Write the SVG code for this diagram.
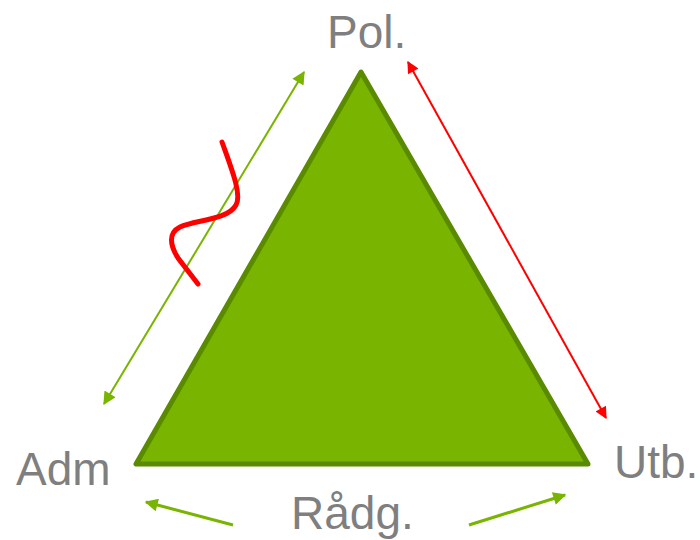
<svg xmlns="http://www.w3.org/2000/svg" width="700" height="540" viewBox="0 0 700 540">
<style>
.lbl{font-family:"Liberation Sans",Arial,sans-serif;font-size:46px;fill:#7f7f7f}
.g{stroke:#78b400;fill:none}
.r{stroke:#ff0000;fill:none}
</style>
<defs>
<marker id="ag2" viewBox="0 0 10 10" refX="9" refY="5" markerWidth="16" markerHeight="13" markerUnits="userSpaceOnUse" orient="auto-start-reverse">
<path d="M0,0 L10,5 L0,10 z" fill="#78b400"/>
</marker>
<marker id="ar" viewBox="0 0 10 10" refX="9" refY="5" markerWidth="15" markerHeight="12" markerUnits="userSpaceOnUse" orient="auto-start-reverse">
<path d="M0,0 L10,5 L0,10 z" fill="#ff0000"/>
</marker>
</defs>
<g id="triangle">
<polygon points="361,72 136,464 588,464" fill="#78b400" stroke="#5a8a00" stroke-width="5" stroke-linejoin="round"/>
</g>
<g id="pol"><text class="lbl" x="327" y="48">Pol.</text></g>
<g id="adm"><text class="lbl" x="16" y="485">Adm</text></g>
<g id="utb"><text class="lbl" x="614" y="478">Utb.</text></g>
<g id="radg"><text class="lbl" x="291" y="529">Rådg.</text></g>
<g id="connectors">
<line class="g" x1="104" y1="404" x2="304" y2="72" stroke-width="2" marker-start="url(#ag2)" marker-end="url(#ag2)"/>
<line class="r" x1="408" y1="62" x2="606" y2="418" stroke-width="2" marker-start="url(#ar)" marker-end="url(#ar)"/>
<line class="g" x1="233" y1="525" x2="146" y2="502" stroke-width="3" marker-end="url(#ag2)"/>
<line class="g" x1="469" y1="525" x2="565" y2="495" stroke-width="3" marker-end="url(#ag2)"/>
<path class="r" d="M222,142 C232,170 242,195 236,205 C228,220 195,220 180,227 C168,233 170,245 178,258 L198,284" stroke-width="5" stroke-linecap="round"/>
</g>
</svg>
